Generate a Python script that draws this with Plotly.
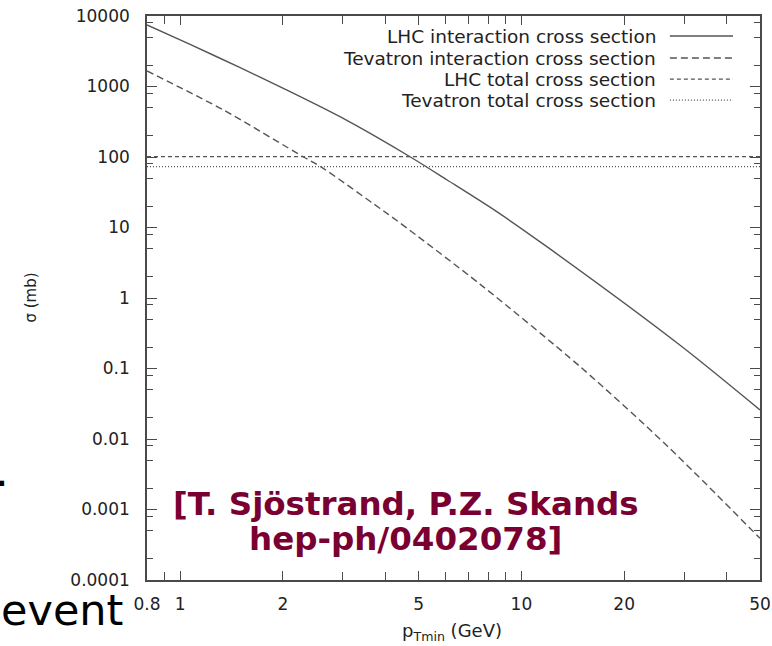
import math
import plotly.graph_objects as go

# ---------------- data ----------------
pt_range = [0.8, 50]

lhc_int_pt = [0.8, 1.07, 1.5, 2.0, 2.95, 4.73, 6.06, 8.3, 11.9, 29.3, 50]
lhc_int_sigma = [7450, 3950, 1850, 950, 370, 100, 47.2, 17.9, 5.3, 0.21, 0.0258]

tev_int_pt = [0.8, 1.34, 2.30, 2.57, 3.86, 4.42, 7.59, 14.9, 26.8, 50]
tev_int_sigma = [1660, 464, 100, 74, 18.5, 11.5, 1.55, 0.105, 0.0079, 0.00039]

lhc_tot_sigma = [101, 101]
tev_tot_sigma = [73, 73]

series_names = [
    "LHC interaction cross section",
    "Tevatron interaction cross section",
    "LHC total cross section",
    "Tevatron total cross section",
]

x_ticks = [0.8, 1, 2, 5, 10, 20, 50]
x_ticktext = ["0.8", "1", "2", "5", "10", "20", "50"]
x_minor = [0.9, 3, 4, 6, 7, 8, 9, 30, 40]

y_ticks = [1e-4, 1e-3, 1e-2, 1e-1, 1, 10, 100, 1000, 10000]
y_ticktext = ["0.0001", "0.001", "0.01", "0.1", "1", "10", "100", "1000", "10000"]
y_minor = [m * 10 ** e for e in range(-4, 4) for m in (2, 5, 8)]

citation = ["[T. Sjöstrand, P.Z. Skands", "hep-ph/0402078]"]

# ---------------- styles ----------------
LINE_COL = "#555555"
AX_COL = "#4a4a4a"
TXT_COL = "#222222"
FONT = "DejaVu Sans"
dashes = ["solid", "7px,4px", "4px,3px", "1px,2px"]

fig = go.Figure()

fig.add_trace(go.Scatter(x=lhc_int_pt, y=lhc_int_sigma, mode="lines",
                         name=series_names[0], showlegend=False,
                         line=dict(color=LINE_COL, width=1.4, dash=dashes[0],
                                   shape="spline", smoothing=0.8)))
fig.add_trace(go.Scatter(x=tev_int_pt, y=tev_int_sigma, mode="lines",
                         name=series_names[1], showlegend=False,
                         line=dict(color=LINE_COL, width=1.4, dash=dashes[1],
                                   shape="spline", smoothing=0.8)))
fig.add_trace(go.Scatter(x=pt_range, y=lhc_tot_sigma, mode="lines",
                         name=series_names[2], showlegend=False,
                         line=dict(color=LINE_COL, width=1.2, dash=dashes[2])))
fig.add_trace(go.Scatter(x=pt_range, y=tev_tot_sigma, mode="lines",
                         name=series_names[3], showlegend=False,
                         line=dict(color=LINE_COL, width=1.2, dash=dashes[3])))

axis_common = dict(
    type="log", showgrid=False, zeroline=False, automargin=False,
    showline=True, linecolor=AX_COL, linewidth=1.6, mirror="allticks",
    ticks="inside", tickcolor=AX_COL, tickwidth=1.3,
    tickfont=dict(family=FONT, size=17, color=TXT_COL),
    tickmode="array",
)

fig.update_xaxes(**axis_common,
                 range=[math.log10(pt_range[0]), math.log10(pt_range[1])],
                 tickvals=x_ticks, ticktext=x_ticktext, ticklen=9,
                 ticklabelstandoff=8,
                 minor=dict(tickmode="array", tickvals=x_minor, ticks="inside",
                            ticklen=8, tickcolor=AX_COL, tickwidth=1.3,
                            showgrid=False))
fig.update_yaxes(**axis_common,
                 range=[-4, 4],
                 tickvals=y_ticks, ticktext=y_ticktext, ticklen=10,
                 ticklabelstandoff=12,
                 minor=dict(tickmode="array", tickvals=y_minor, ticks="inside",
                            ticklen=6, tickcolor=AX_COL, tickwidth=1.3,
                            showgrid=False))

annotations = []
shapes = []
# manual gnuplot-style key: text right-aligned, sample on the right
row_y = [0.9645, 0.9255, 0.888, 0.851]
for name, dsh, yy in zip(series_names, dashes, row_y):
    annotations.append(dict(xref="paper", yref="paper", x=0.834, y=yy,
                            xanchor="right", yanchor="middle", showarrow=False,
                            text=name,
                            font=dict(family=FONT, size=18.5, color=TXT_COL)))
    shapes.append(dict(type="line", xref="paper", yref="paper",
                       x0=0.853, x1=0.956, y0=yy, y1=yy,
                       line=dict(color=LINE_COL, width=1.3, dash=dsh)))

# axis titles
annotations.append(dict(xref="paper", yref="paper", x=0.497, y=-0.092,
                        xanchor="center", yanchor="middle", showarrow=False,
                        text="p<sub>Tmin</sub> (GeV)",
                        font=dict(family=FONT, size=18, color=TXT_COL)))
annotations.append(dict(xref="paper", yref="paper", x=-0.19, y=0.5,
                        xanchor="center", yanchor="middle", showarrow=False,
                        textangle=-90, text="σ (mb)",
                        font=dict(family=FONT, size=15, color=TXT_COL)))

# citation overlay
annotations.append(dict(xref="paper", yref="paper", x=0.4225, y=0.135,
                        xanchor="center", yanchor="middle", showarrow=False,
                        text="<b>" + citation[0] + "</b>",
                        font=dict(family=FONT, size=32.5, color="#7a0032")))
annotations.append(dict(xref="paper", yref="paper", x=0.4225, y=0.072,
                        xanchor="center", yanchor="middle", showarrow=False,
                        text="<b>" + citation[1] + "</b>",
                        font=dict(family=FONT, size=32.5, color="#7a0032")))

# slide text fragments around the picture
annotations.append(dict(xref="paper", yref="paper", x=-0.242, y=-0.054,
                        xanchor="left", yanchor="middle", showarrow=False,
                        text="event",
                        font=dict(family=FONT, size=43, color="#000000")))
annotations.append(dict(xref="paper", yref="paper", x=-0.252, y=0.193,
                        xanchor="left", yanchor="middle", showarrow=False,
                        text=".",
                        font=dict(family=FONT, size=43, color="#000000")))

fig.update_layout(
    width=772, height=646,
    margin=dict(l=147, r=12, t=16, b=66),
    paper_bgcolor="white", plot_bgcolor="white",
    showlegend=False,
    annotations=annotations, shapes=shapes,
)

fig.write_html("out.html")
